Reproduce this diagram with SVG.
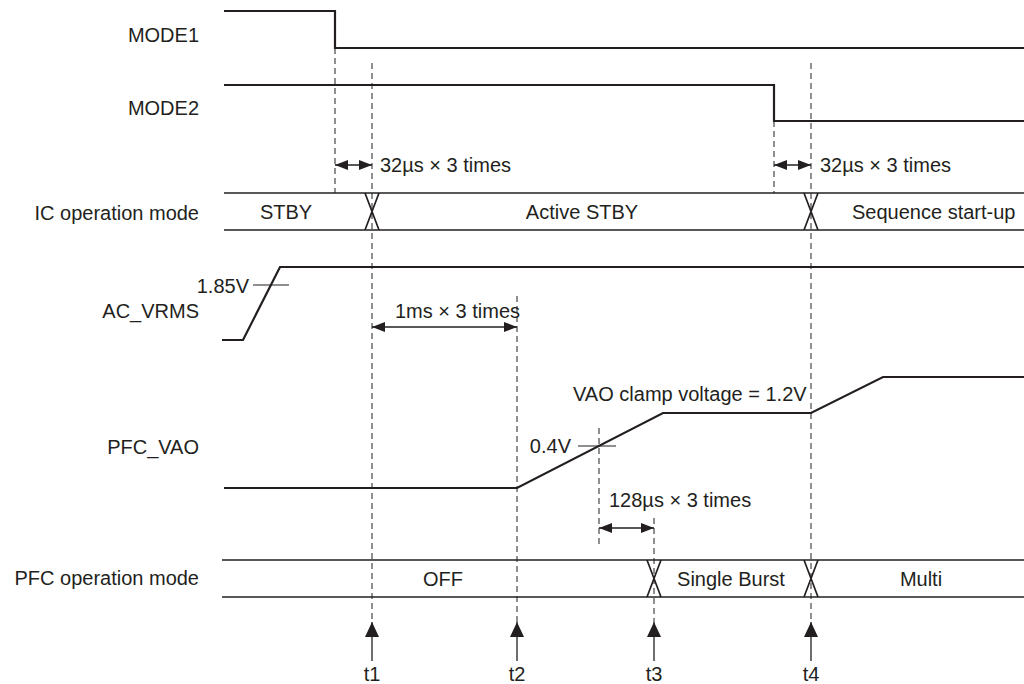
<svg xmlns="http://www.w3.org/2000/svg" width="1024" height="684" viewBox="0 0 1024 684">
<style>
text{font-family:"Liberation Sans",Arial,sans-serif;font-size:20px;fill:#231f20}
.lbl{text-anchor:end}
.mid{text-anchor:middle}
.sig{fill:none;stroke:#231f20;stroke-width:2.2}
.band{fill:none;stroke:#231f20;stroke-width:1.7}
.dash{fill:none;stroke:#231f20;stroke-width:1;stroke-dasharray:6 4}
.thin{fill:none;stroke:#231f20;stroke-width:1.2}
.cross{fill:none;stroke:#231f20;stroke-width:1.7}
.dim{fill:none;stroke:#231f20;stroke-width:1.3;marker-start:url(#ah);marker-end:url(#ah)}
.tarr{fill:none;stroke:#231f20;stroke-width:1.3;marker-end:url(#ahT)}
</style>
<defs>
<marker id="ah" viewBox="0 0 13 10" refX="13" refY="5" markerWidth="13" markerHeight="10" markerUnits="userSpaceOnUse" orient="auto-start-reverse">
<path d="M0,0 L13,5 L0,10 Z" fill="#231f20"/>
</marker>
<marker id="ahT" viewBox="0 0 15 14" refX="15" refY="7" markerWidth="15" markerHeight="14" markerUnits="userSpaceOnUse" orient="auto">
<path d="M0,0 L15,7 L0,14 Z" fill="#231f20"/>
</marker>
</defs>

<g id="labels">
<text class="lbl" x="199" y="42">MODE1</text>
<text class="lbl" x="199" y="115">MODE2</text>
<text class="lbl" x="199" y="220">IC operation mode</text>
<text class="lbl" x="199" y="318">AC_VRMS</text>
<text class="lbl" x="199" y="454">PFC_VAO</text>
<text class="lbl" x="199" y="585">PFC operation mode</text>
</g>

<g id="connectors">
<line class="dash" x1="335" y1="48" x2="335" y2="193"/>
<line class="dash" x1="372" y1="63" x2="372" y2="622"/>
<line class="dash" x1="774" y1="121" x2="774" y2="193"/>
<line class="dash" x1="811" y1="63" x2="811" y2="622"/>
<line class="dash" x1="517" y1="296" x2="517" y2="622"/>
<line class="dash" x1="599" y1="428" x2="599" y2="548"/>
<line class="dash" x1="654" y1="518" x2="654" y2="622"/>
<line class="dim" x1="335" y1="165" x2="372" y2="165"/>
<line class="dim" x1="774" y1="165" x2="811" y2="165"/>
<line class="dim" x1="372" y1="327" x2="517" y2="327"/>
<line class="dim" x1="599" y1="528" x2="654" y2="528"/>
<line class="tarr" x1="372" y1="661" x2="372" y2="622"/>
<line class="tarr" x1="517" y1="661" x2="517" y2="622"/>
<line class="tarr" x1="654" y1="661" x2="654" y2="622"/>
<line class="tarr" x1="811" y1="661" x2="811" y2="622"/>
</g>

<g id="mode1">
<polyline class="sig" points="224,11 335,11 335,48 1024,48"/>
</g>
<g id="mode2">
<polyline class="sig" points="224,85 774,85 774,121 1024,121"/>
</g>

<g id="ic-mode">
<line class="band" x1="224" y1="193" x2="1024" y2="193"/>
<line class="band" x1="224" y1="230" x2="1024" y2="230"/>
<path class="cross" d="M365,193 L379,230 M379,193 L365,230 M804,193 L818,230 M818,193 L804,230"/>
<text class="mid" x="286" y="219">STBY</text>
<text class="mid" x="582" y="219">Active STBY</text>
<text x="852" y="219">Sequence start-up</text>
</g>

<g id="ac-vrms">
<polyline class="sig" points="222,340 243,340 280,267 1024,267"/>
<line class="thin" x1="253" y1="285" x2="289" y2="285"/>
<text class="lbl" x="249" y="293">1.85V</text>
</g>

<g id="pfc-vao">
<polyline class="sig" points="224,488 517,488 663,413 811,413 883,377 1024,377"/>
<line class="thin" x1="578" y1="446" x2="616" y2="446"/>
<text class="lbl" x="571" y="453">0.4V</text>
<text x="573" y="401">VAO clamp voltage = 1.2V</text>
</g>

<g id="pfc-mode">
<line class="band" x1="222" y1="560" x2="1024" y2="560"/>
<line class="band" x1="222" y1="597" x2="1024" y2="597"/>
<path class="cross" d="M647,560 L661,597 M661,560 L647,597 M804,560 L818,597 M818,560 L804,597"/>
<text class="mid" x="443" y="586">OFF</text>
<text class="mid" x="731" y="586">Single Burst</text>
<text class="mid" x="921" y="586">Multi</text>
</g>

<g id="dim-labels">
<text x="380" y="172">32µs × 3 times</text>
<text x="820" y="172">32µs × 3 times</text>
<text x="395" y="318">1ms × 3 times</text>
<text x="609" y="507">128µs × 3 times</text>
</g>

<g id="time-labels">
<text class="mid" x="372" y="681">t1</text>
<text class="mid" x="517" y="681">t2</text>
<text class="mid" x="654" y="681">t3</text>
<text class="mid" x="811" y="681">t4</text>
</g>
</svg>
